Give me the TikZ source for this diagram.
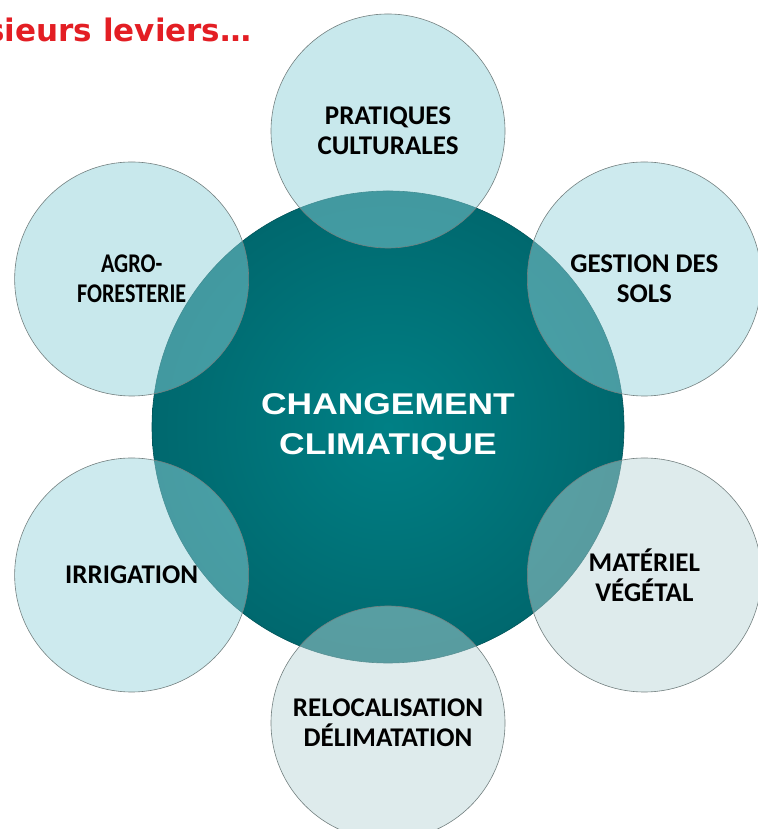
\documentclass[tikz,border=0pt]{standalone}
\usepackage{fontspec}
\setmainfont{Carlito}
\newfontfamily\etroitfont[FakeStretch=0.82]{Carlito}
\newfontfamily\arialfont[FakeStretch=1.18]{Liberation Sans}
\newfontfamily\verdanafont{DejaVu Sans}
\usepackage{tikz}
\usetikzlibrary{calc}
\usepackage{xcolor}
\definecolor{petrole}{RGB}{0,128,133}
\definecolor{petrolebord}{RGB}{0,104,110}
\definecolor{levier}{RGB}{140,207,215}
\definecolor{leviergris}{RGB}{186,213,215}
\definecolor{rougetitre}{RGB}{227,30,36}

\begin{document}
\begin{tikzpicture}[x=1pt,y=1pt,
  levier/.style={circle,draw=gray!90!teal,line width=0.6pt,fill=#1,fill opacity=0.48,
    text opacity=1,minimum size=234pt,inner sep=0pt,align=center,
    font=\bfseries\fontsize{27}{30}\selectfont},
  levier/.default=levier,
  etroit/.style={font=\etroitfont\bfseries\fontsize{27}{30}\selectfont},
  centre/.style={circle,draw=petrolebord!80!black,line width=0.6pt,
    inner color=petrole,outer color=petrolebord,minimum size=472pt,inner sep=0pt,
    align=center,text=white,font=\arialfont\bfseries\fontsize{30}{40}\selectfont}
  ]
\def\d{296}
\useasboundingbox (0,0) rectangle (757,829);
\node[anchor=base east,text=rougetitre,font=\verdanafont\bfseries\fontsize{31}{36}\selectfont]
  (titre) at (255,787) {sieurs leviers…};
\node[centre] (cc) at (388,402) {CHANGEMENT\\CLIMATIQUE};
\node[levier] (pratiques) at ($(cc)+(90:\d)$) {PRATIQUES\\CULTURALES};
\node[levier=levier!90!white] (sols) at ($(cc)+(30:\d)$) {GESTION DES\\SOLS};
\node[levier=leviergris] (materiel) at ($(cc)+(-30:\d)$) {MATÉRIEL\\VÉGÉTAL};
\node[levier=leviergris] (relocalisation) at ($(cc)+(-90:\d)$) {RELOCALISATION\\DÉLIMATATION};
\node[levier=levier!90!white] (irrigation) at ($(cc)+(-150:\d)$) {IRRIGATION};
\node[levier,etroit] (agro) at ($(cc)+(150:\d)$) {AGRO-\\FORESTERIE};
\end{tikzpicture}
\end{document}
